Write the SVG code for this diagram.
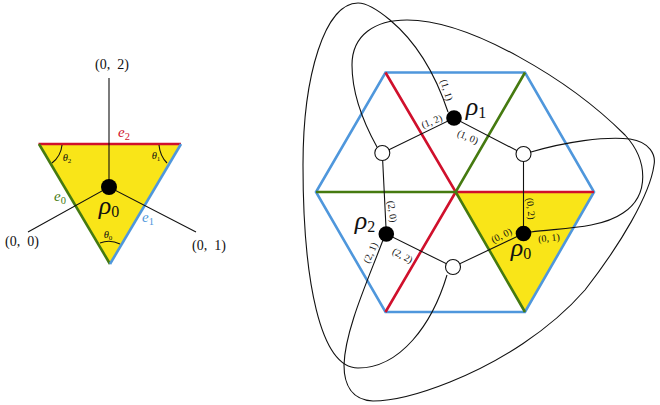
<svg xmlns="http://www.w3.org/2000/svg" width="660" height="405" viewBox="0 0 660 405">
<style>
text{font-family:"Liberation Serif","DejaVu Serif",serif;fill:#111;text-anchor:middle}
.c{fill:none;stroke:#111;stroke-width:1.1}
.e{fill:none;stroke-width:2.6;stroke-linecap:butt}
.r{stroke:#d0102c}.g{stroke:#457a10}.b{stroke:#4f97dc}
.n{fill:#000}.w{fill:#fff;stroke:#111;stroke-width:1.1}
.t{font-size:14px}
.s{font-size:10px}
.rho{font-size:26px;font-style:italic}
.sub{font-size:16px;font-style:normal}
.th{font-size:10.500px;font-style:italic}
.thsub{font-size:7px;font-style:normal}
.lab{font-size:15px;font-style:italic}
.sub2{font-size:10.500px;font-style:normal}
</style>
<g id="left-face">
<polygon points="38.500,144 181,144 110,264" fill="#f9e518"/>
<path class="e r" d="M38.500 144H181"/>
<path class="e g" d="M39 144L110 264"/>
<path class="e b" d="M181 144L110 264"/>
<path class="c" d="M100 243Q110 239 120 244M159 145Q160 156 167 163M62 145Q61 156 52 163"/>
<text class="th" x="67" y="161">θ<tspan class="thsub" dy="2">2</tspan></text>
<text class="th" x="156" y="159">θ<tspan class="thsub" dy="2">1</tspan></text>
<text class="th" x="108" y="238">θ<tspan class="thsub" dy="2">0</tspan></text>
<text class="lab" x="124" y="137" style="fill:#d0102c">e<tspan class="sub2" dy="3">2</tspan></text>
<text class="lab" x="60" y="201" style="fill:#457a10">e<tspan class="sub2" dy="3">0</tspan></text>
<text class="lab" x="148" y="222" style="fill:#4f97dc">e<tspan class="sub2" dy="3">1</tspan></text>
</g>
<g id="left-connectors">
<path class="c" d="M109 78V187M28 232L109 187L196 232"/>
</g>
<g id="left-node">
<circle class="n" cx="109" cy="187" r="8"/>
<text class="rho" x="109" y="214">ρ<tspan class="sub" dy="3">0</tspan></text>
<text class="t" x="112" y="69" xml:space="preserve">(0,  2)</text>
<text class="t" x="22" y="246" xml:space="preserve">(0,  0)</text>
<text class="t" x="209" y="250" xml:space="preserve">(0,  1)</text>
</g>
<g id="hexagon">
<polygon points="455.700,192 594,192 525,312" fill="#f9e518"/>
<path class="e b" d="M385.500 72.500H525L594 192L525 312H385.500L316 192Z"/>
<path class="e r" d="M385.500 72.500L455.700 192H594M455.700 192L385.500 312"/>
<path class="e g" d="M525 72.500L455.700 192H316M455.700 192L525 312"/>
</g>
<g id="connectors">
<path class="c" d="M382.300 153L454 118L523.500 154V233.500L453 267L386.300 234L382.300 153"/>
<path class="c" d="M448 112C438 82 420 45 390 20C378 10 367 3 358 3C325 3 303 75 303 165C303 280 320 368 358 368C400 368 432 325 447 275"/>
<path class="c" d="M377 147C362 120 352 90 352 65C352 35 375 20 407 20C470 20 570 80 625 135C648 160 650 195 623 213C600 229 560 228 531 232"/>
<path class="c" d="M531 152C565 142 605 136 630 139C650 142 656 155 654 165C650 195 620 245 585 290C550 330 500 362 450 382C420 394 395 401 373 401C352 400 344 385 344 365C345 330 368 280 383 240"/>
</g>
<g id="node-rho1"><circle class="n" cx="454" cy="118" r="7.800"/><text class="rho" x="476" y="115">ρ<tspan class="sub" dy="3">1</tspan></text></g>
<g id="node-rho0"><circle class="n" cx="523.500" cy="233.500" r="7.800"/><text class="rho" x="521" y="256">ρ<tspan class="sub" dy="3">0</tspan></text></g>
<g id="node-rho2"><circle class="n" cx="386.300" cy="234" r="7.800"/><text class="rho" x="365" y="229">ρ<tspan class="sub" dy="3">2</tspan></text></g>
<g id="node-right"><circle class="w" cx="523.500" cy="154" r="7.500"/></g>
<g id="node-left"><circle class="w" cx="382.300" cy="153" r="7.500"/></g>
<g id="node-bottom"><circle class="w" cx="453" cy="267" r="7.500"/></g>
<g id="edge-labels">
<text class="s" transform="translate(443.500 91) rotate(72)">(1, 1)</text>
<text class="s" transform="translate(433 124.500) rotate(-22)">(1, 2)</text>
<text class="s" transform="translate(466.500 140) rotate(23)">(1, 0)</text>
<text class="s" transform="translate(389 212) rotate(82)">(2, 0)</text>
<text class="s" transform="translate(373.500 254) rotate(-66)">(2, 1)</text>
<text class="s" transform="translate(401 258.600) rotate(28)">(2, 2)</text>
<text class="s" transform="translate(527.500 209) rotate(84)">(0, 2)</text>
<text class="s" transform="translate(503 238.400) rotate(-27)">(0, 0)</text>
<text class="s" transform="translate(549.300 241.300) rotate(-6)">(0, 1)</text>
</g>
</svg>
